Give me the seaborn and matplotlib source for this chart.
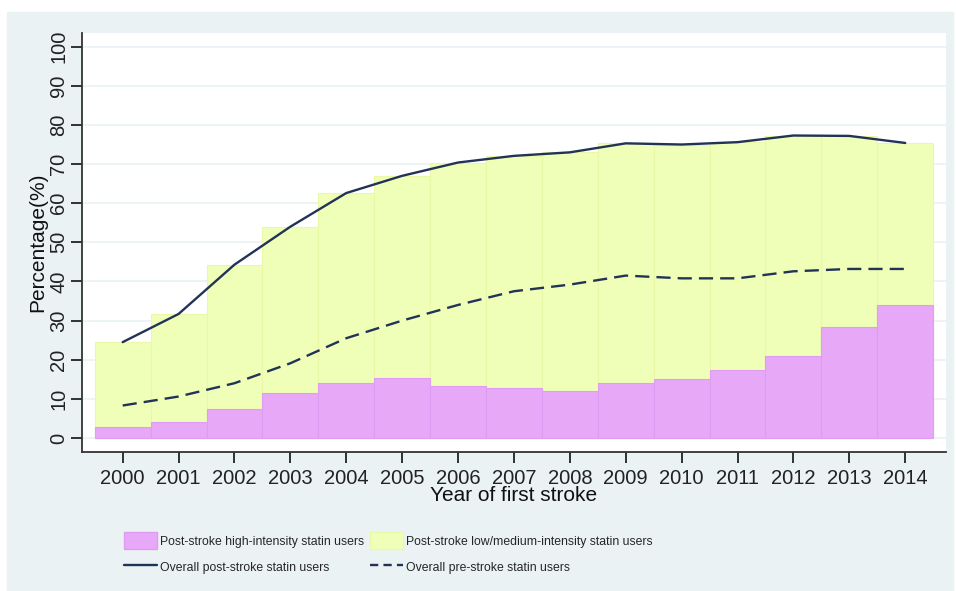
import numpy as np
import pandas as pd
import seaborn as sns
import matplotlib
matplotlib.use('Agg')
import matplotlib.pyplot as plt
from matplotlib.patches import Patch, Rectangle
from matplotlib.lines import Line2D

# Data
years = list(range(2000, 2015))
post_total = [24.5, 31.7, 44.3, 54.0, 62.6, 67.0, 70.4, 72.1, 73.0, 75.3, 75.0, 75.6, 77.3, 77.2, 75.4]
post_high = [2.8, 4.2, 7.4, 11.4, 14.0, 15.3, 13.4, 12.9, 12.0, 14.0, 15.2, 17.5, 21.0, 28.3, 34.1]
pre_total = [8.3, 10.6, 14.0, 19.1, 25.5, 30.0, 34.0, 37.5, 39.2, 41.5, 40.8, 40.8, 42.6, 43.2, 43.2]

df = pd.DataFrame({'year': years, 'post_total': post_total,
                   'post_high': post_high, 'pre_total': pre_total})

pink = '#E8A8F8'
yellow = '#F0FFB8'
navy = '#223357'
panel = '#EAF2F3'

sns.set_style('white')
plt.rcParams['font.family'] = ['Liberation Sans', 'DejaVu Sans']

fig = plt.figure(figsize=(9.56, 5.91), dpi=100)
fig.patches.append(Rectangle((7 / 956, 0), 946 / 956, 1 - 12 / 591,
                             transform=fig.transFigure, color=panel, zorder=-10))
ax = fig.add_axes([82 / 956, 139 / 591, 864 / 956, 419 / 591])
ax.set_zorder(5)
ax.set_facecolor('white')

sns.barplot(data=df, x='year', y='post_total', native_scale=True, width=1,
            color=yellow, edgecolor='#EAF8A8', linewidth=0.8, saturation=1, ax=ax)
sns.barplot(data=df, x='year', y='post_high', native_scale=True, width=1,
            color=pink, edgecolor='#E09CF2', linewidth=0.8, saturation=1, ax=ax)
sns.lineplot(data=df, x='year', y='post_total', color=navy, linewidth=1.7, ax=ax)
sns.lineplot(data=df, x='year', y='pre_total', color=navy, linewidth=1.7,
             dashes=False, ax=ax)
ax.lines[-1].set_dashes((6, 3))

ax.set_xlim(1999.272, 2014.73)
ax.set_ylim(-3.58, 103.5)
ax.set_yticks(range(0, 101, 10))
ax.set_xticks(years)
ax.set_xticklabels([str(y) for y in years])
ax.yaxis.grid(True, color=panel, linewidth=1.2, zorder=0)
ax.set_axisbelow(True)
for lab in ax.get_yticklabels():
    lab.set_rotation(90)
    lab.set_va('center')
ax.tick_params(axis='both', labelsize=14.5, colors='#222222', length=8,
               width=1.3, direction='out', left=True, bottom=True)
ax.tick_params(axis='y', pad=2)
ax.tick_params(axis='x', pad=4)
sns.despine(ax=ax)
for s in ['left', 'bottom']:
    ax.spines[s].set_color('#333333')
    ax.spines[s].set_linewidth(1.3)

ax.set_xlabel('Year of first stroke', fontsize=15, labelpad=-1, color='#111111')
ax.set_ylabel('Percentage(%)', fontsize=15, labelpad=1, color='#111111')

handles = [Patch(facecolor=pink, edgecolor='#E09CF2'),
           Line2D([], [], color=navy, linewidth=1.7),
           Patch(facecolor=yellow, edgecolor='#EAF8A8'),
           Line2D([], [], color=navy, linewidth=1.7, dashes=(3.5, 2.2))]
labels = ['Post-stroke high-intensity statin users',
          'Overall post-stroke statin users',
          'Post-stroke low/medium-intensity statin users',
          'Overall pre-stroke statin users']
leg = fig.legend(handles, labels, ncol=2, loc='center left',
                 bbox_to_anchor=(113 / 956, 1 - 554 / 591), frameon=False,
                 handlelength=2.7, handleheight=1.78, handletextpad=0.25,
                 columnspacing=0.5, labelspacing=0.76,
                 prop={'size': 8.8})

fig.savefig('out.png', dpi=100)
